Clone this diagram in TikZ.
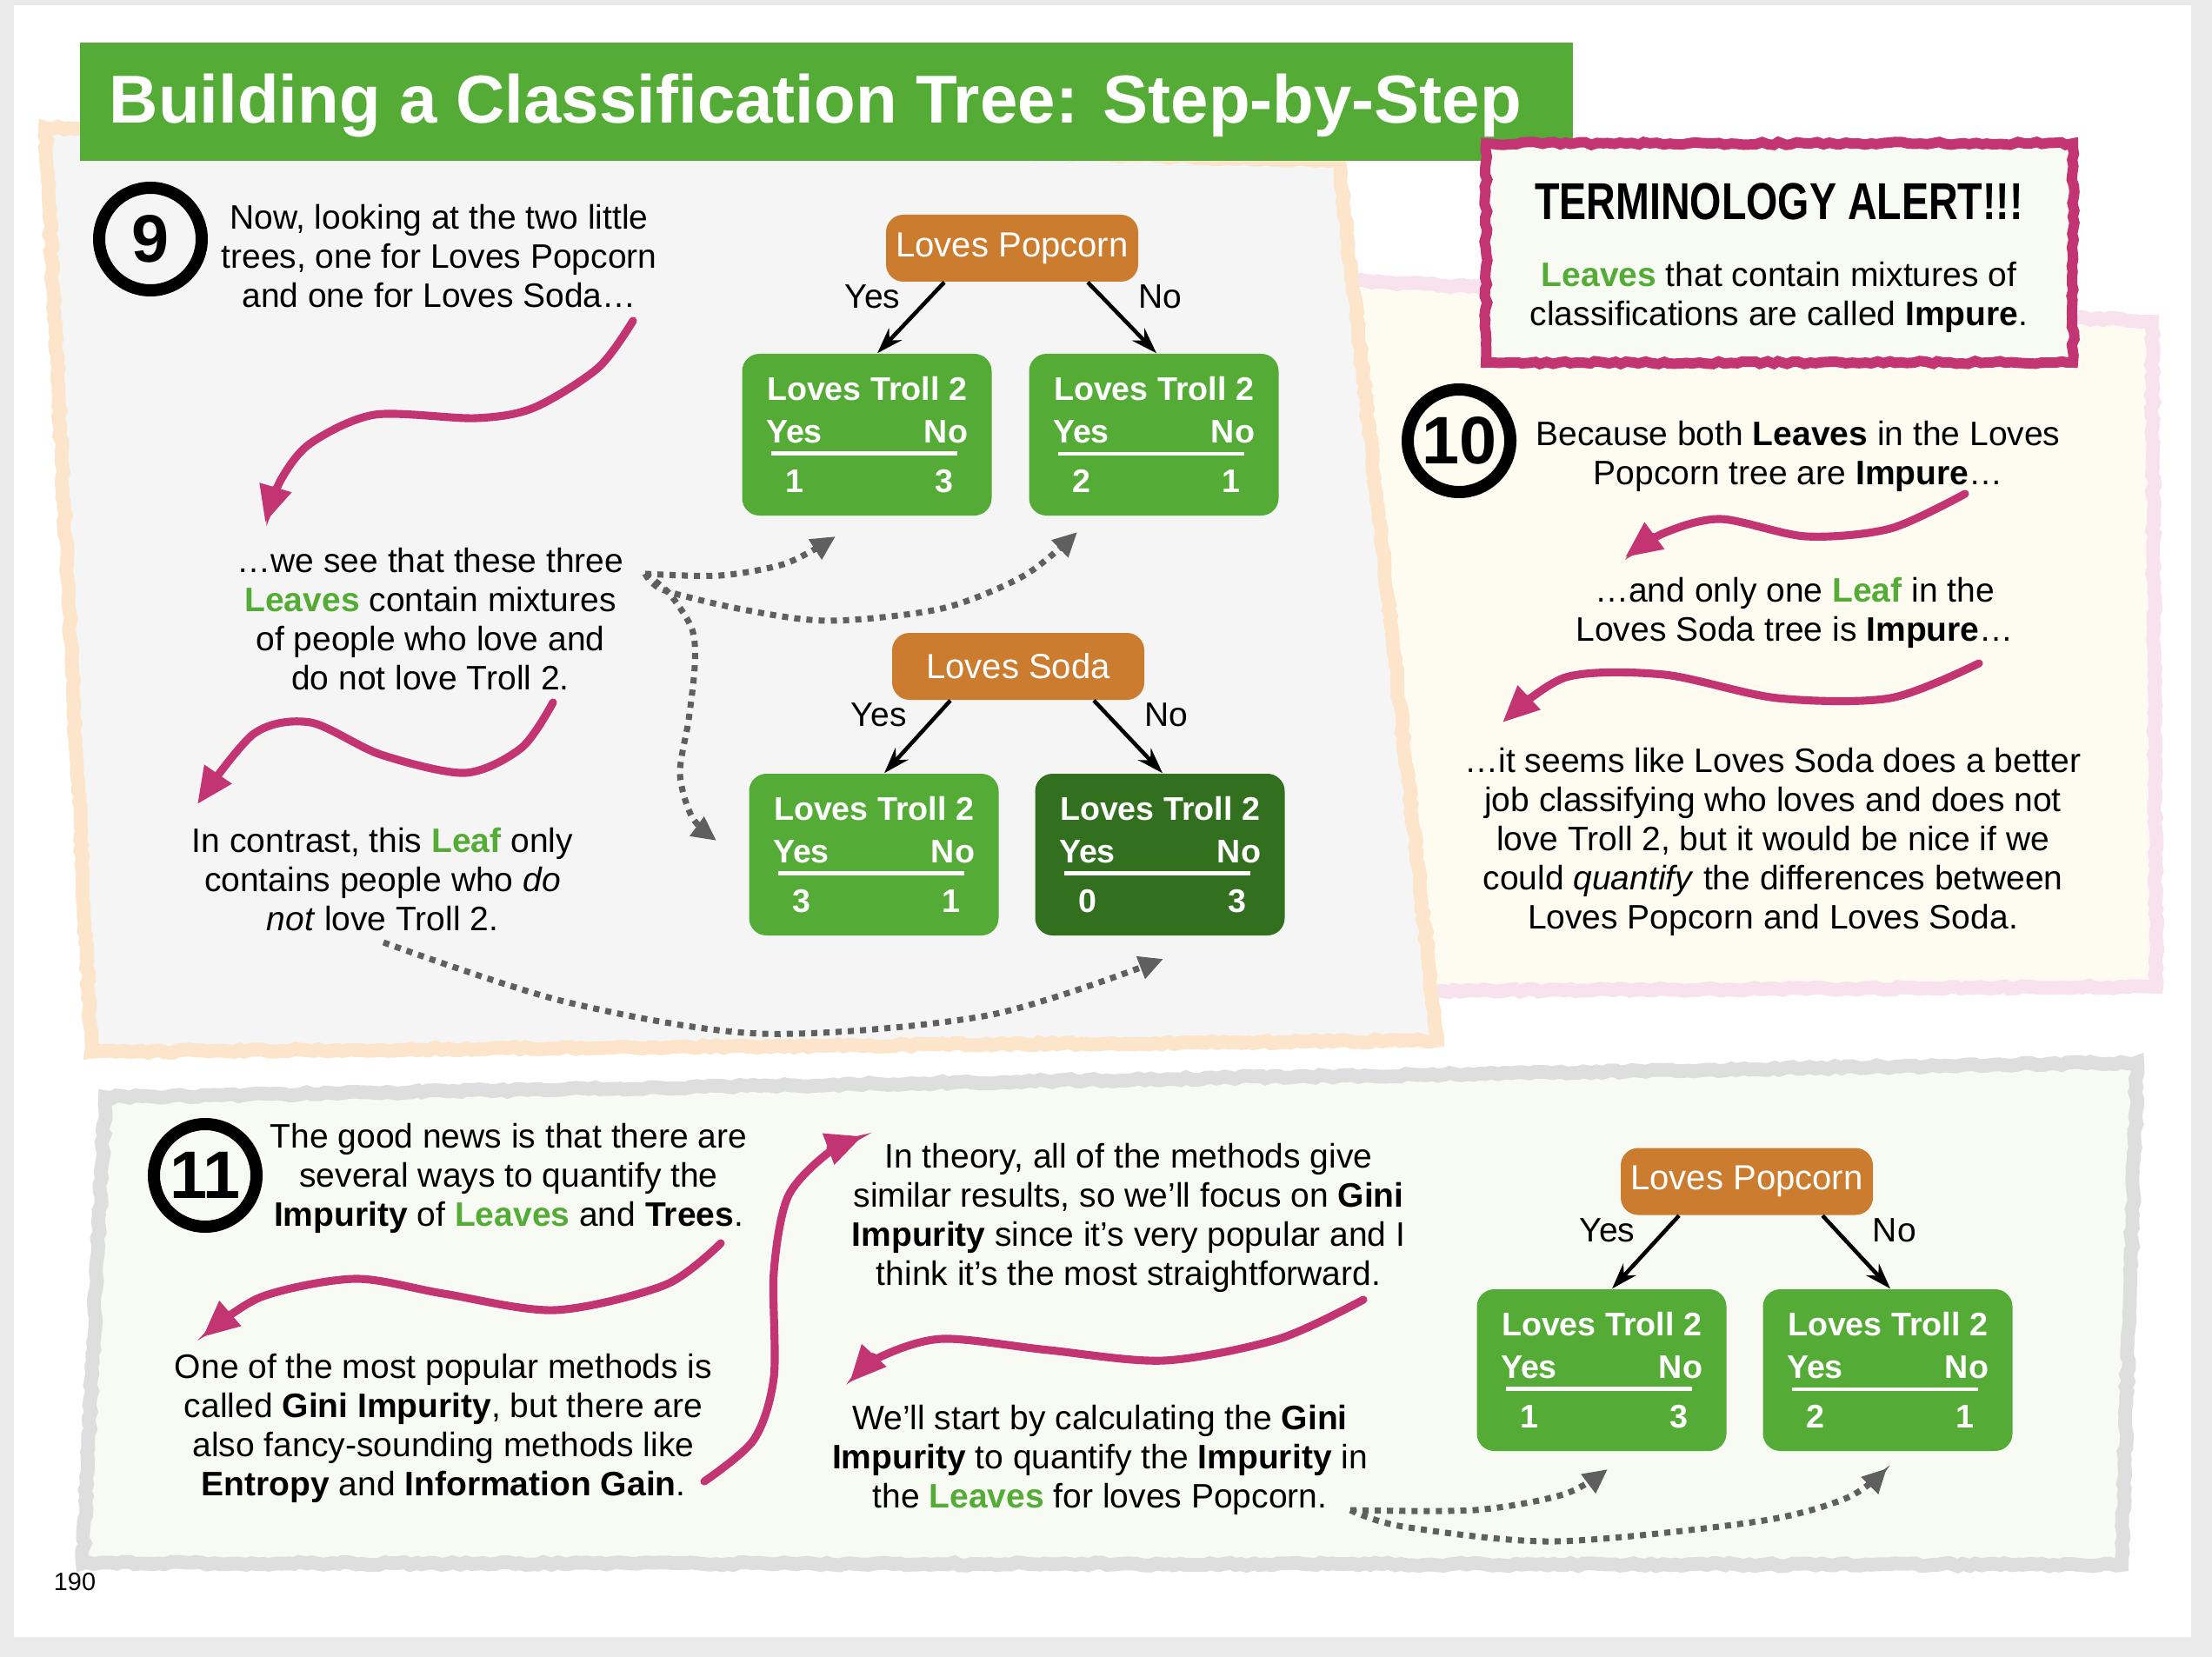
\documentclass[tikz,border=0pt]{standalone}
\usepackage{fontspec}
\setmainfont{Liberation Sans}
\usepackage{graphicx}
\usetikzlibrary{arrows.meta,positioning,calc,decorations.pathmorphing}
\definecolor{leafgreen}{RGB}{84,171,53}
\definecolor{darkleaf}{RGB}{50,112,32}
\definecolor{rootorange}{RGB}{203,124,47}
\definecolor{alertpink}{RGB}{195,53,114}
\definecolor{dotgray}{RGB}{95,95,95}
\definecolor{pagegray}{RGB}{234,234,234}
\definecolor{panelgray}{RGB}{245,245,245}
\definecolor{peach}{RGB}{252,229,203}
\definecolor{cream}{RGB}{254,252,241}
\definecolor{lightpink}{RGB}{247,226,237}
\definecolor{mint}{RGB}{248,251,244}
\definecolor{framegray}{RGB}{222,222,222}

\newcommand{\trollcounts}[2]{%
  \parbox{2.32cm}{\centering Loves Troll 2\par\vspace{1pt}
  \makebox[2.32cm]{Yes\hfill No}\par\vspace{-8.85pt}
  \makebox[2.32cm]{\hspace{0.06cm}\rule{2.14cm}{1.3pt}\hfill}\par\vspace{-0.85pt}
  \makebox[2.32cm]{\hspace{0.22cm}#1\hfill #2\hspace{0.17cm}}}}
\newcommand{\green}[1]{\textcolor{leafgreen}{#1}}

\begin{document}
\begin{tikzpicture}[
    txt/.style={font=\fontsize{11.1}{12.8}\selectfont, align=center, inner sep=0pt},
    root/.style={rectangle, fill=rootorange, rounded corners=0.2cm, text=white,
                 minimum width=2.9cm, minimum height=0.77cm, inner sep=0pt,
                 font=\fontsize{11.4}{13}\selectfont},
    leaf/.style={rectangle, fill=leafgreen, rounded corners=0.2cm, text=white,
                 minimum width=2.87cm, minimum height=1.86cm, inner sep=0pt,
                 font=\fontsize{10.7}{13}\selectfont\bfseries},
    num/.style={circle, draw, line width=0.14cm, minimum size=1.18cm, inner sep=0pt,
                font=\fontsize{22}{24}\selectfont\bfseries},
    treearrow/.style={-{Stealth[length=0.3cm,width=0.2cm]}, line width=1.3pt},
    yesno/.style={font=\fontsize{11.1}{13}\selectfont, inner sep=0pt},
    pinkarrow/.style={alertpink, line width=2.6pt, line cap=round,
                      -{Triangle[length=0.42cm,width=0.36cm]}},
    dotarrow/.style={dotgray, line width=2pt, dash pattern=on 2pt off 2pt,
                     -{Triangle[length=0.28cm,width=0.26cm]}},
    sketch/.style={decorate, decoration={random steps, segment length=2pt, amplitude=0.5pt}}
]
\pgfmathsetseed{7}
\useasboundingbox (0,0) rectangle (25.44,-19.06);

% Page
\fill[pagegray] (0,0) rectangle (25.44,-19.06);
\fill[white] (0.16,-0.06) rectangle (25.20,-18.83);

% Panels
\draw[sketch, lightpink, line width=4.5pt, fill=cream]
    (15.35,-3.22) -- (24.75,-3.70) -- (24.80,-11.35) -- (16.30,-11.40) -- cycle;
\draw[sketch, peach, line width=4.5pt, fill=panelgray]
    (0.52,-1.47) -- (15.40,-1.85) -- (16.53,-11.97) -- (1.05,-12.10) -- cycle;
\draw[sketch, framegray, line width=4.5pt, fill=mint]
    (1.21,-12.62) -- (24.58,-12.22) -- (24.40,-18.00) -- (0.95,-17.98) -- cycle;

% Title
\fill[leafgreen] (0.92,-0.49) rectangle (18.09,-1.85);
\node[anchor=base west, text=white, inner sep=0pt, font=\fontsize{22.2}{26}\selectfont\bfseries]
    (title) at (1.25,-1.42) {Building a Classification Tree: Step-by-Step};

% Terminology alert
\draw[sketch, alertpink, line width=0.12cm, fill=mint] (17.09,-1.65) rectangle (23.84,-4.17);
\node[inner sep=0pt, font=\fontsize{17}{20}\selectfont\bfseries] (alert) at (20.46,-2.32)
    {\scalebox{0.78}[1]{TERMINOLOGY ALERT!!!}};
\node[txt] (alertbody) at (20.46,-3.42)
    {\green{\textbf{Leaves}} that contain mixtures of\\classifications are called \textbf{Impure}.};

% Step 9
\node[num] (n9) at (1.73,-2.75) {9};
\node[txt] (t9a) at (5.05,-2.95)
    {Now, looking at the two little\\trees, one for Loves Popcorn\\and one for Loves Soda…};
\node[txt] (t9b) at (4.95,-7.12)
    {…we see that these three\\\green{\textbf{Leaves}} contain mixtures\\of people who love and\\do not love Troll 2.};
\node[txt] (t9c) at (4.40,-10.12)
    {In contrast, this \green{\textbf{Leaf}} only\\contains people who \emph{do}\\\emph{not} love Troll 2.};

% Loves Popcorn tree
\node[root] (pop) at (11.64,-2.855) {Loves Popcorn};
\node[leaf] (popyes) at (9.97,-5.00) {\trollcounts{1}{3}};
\node[leaf] (popno) at (13.27,-5.00) {\trollcounts{2}{1}};
\draw[treearrow] ([xshift=-0.78cm]pop.south) -- node[yesno, pos=0.2, left=0.33cm] {Yes} ([xshift=0.12cm]popyes.north);
\draw[treearrow] ([xshift=0.87cm]pop.south) -- node[yesno, pos=0.2, right=0.4cm] {No} ([xshift=0.03cm]popno.north);

% Loves Soda tree
\node[root] (soda) at (11.71,-7.665) {Loves Soda};
\node[leaf] (sodayes) at (10.05,-9.83) {\trollcounts{3}{1}};
\node[leaf, fill=darkleaf] (sodano) at (13.34,-9.83) {\trollcounts{0}{3}};
\draw[treearrow] ([xshift=-0.78cm]soda.south) -- node[yesno, pos=0.2, left=0.33cm] {Yes} ([xshift=0.12cm]sodayes.north);
\draw[treearrow] ([xshift=0.87cm]soda.south) -- node[yesno, pos=0.2, right=0.4cm] {No} ([xshift=0.03cm]sodano.north);

% Arrows in step 9
\coordinate (p1s) at (7.28,-3.69);
\coordinate (p1e) at (3.05,-6.01);
\draw[pinkarrow] plot[smooth] coordinates {(p1s) (6.88,-4.23) (6.14,-4.69) (5.47,-4.81) (4.31,-4.77) (3.57,-5.10) (3.23,-5.52) (p1e)};
\coordinate (p2s) at (6.36,-8.08);
\coordinate (p2e) at (2.27,-9.25);
\draw[pinkarrow] plot[smooth] coordinates {(p2s) (6.00,-8.60) (5.35,-8.89) (4.38,-8.68) (3.57,-8.31) (2.92,-8.44) (p2e)};

\coordinate (d1) at (7.42,-6.60);
\coordinate (d1a) at (9.61,-6.17);
\coordinate (d1b) at (12.39,-6.12);
\coordinate (d1c) at (8.24,-9.67);
\draw[dotarrow] plot[smooth] coordinates {(d1) (8.28,-6.62) (9.04,-6.48) (d1a)};
\draw[dotarrow] plot[smooth] coordinates {(d1) (7.64,-6.79) (8.59,-7.02) (9.55,-7.14) (10.83,-7.00) (11.78,-6.62) (d1b)};
\draw[dotarrow] plot[smooth] coordinates {(d1) (7.70,-6.83) (7.96,-7.24) (7.99,-7.66) (7.92,-8.28) (7.82,-8.90) (7.96,-9.40) (d1c)};
\coordinate (d2) at (4.41,-10.84);
\coordinate (d2a) at (13.38,-11.03);
\draw[dotarrow] plot[smooth] coordinates {(d2) (6.49,-11.52) (8.76,-11.89) (11.36,-11.68) (d2a)};

% Step 10
\node[num] (n10) at (16.78,-5.07) {10};
\node[txt] (t10a) at (20.68,-5.25)
    {Because both \textbf{Leaves} in the Loves\\Popcorn tree are \textbf{Impure}…};
\node[txt] (t10b) at (20.64,-7.05)
    {…and only one \green{\textbf{Leaf}} in the\\Loves Soda tree is \textbf{Impure}…};
\node[txt] (t10c) at (20.39,-9.68)
    {…it seems like Loves Soda does a better\\job classifying who loves and does not\\love Troll 2, but it would be nice if we\\could \emph{quantify} the differences between\\Loves Popcorn and Loves Soda.};
\coordinate (p3s) at (22.60,-5.68);
\coordinate (p3e) at (18.69,-6.41);
\draw[pinkarrow] plot[smooth] coordinates {(p3s) (21.74,-6.08) (20.77,-6.17) (19.79,-5.97) (19.14,-6.13) (p3e)};
\coordinate (p4s) at (22.76,-7.63);
\coordinate (p4e) at (17.28,-8.31);
\draw[pinkarrow] plot[smooth] coordinates {(p4s) (21.74,-8.03) (20.44,-8.03) (19.14,-7.76) (18.01,-7.79) (p4e)};

% Step 11
\node[num] (n11) at (2.36,-13.52) {11};
\node[txt] (t11a) at (5.85,-13.55)
    {The good news is that there are\\several ways to quantify the\\\textbf{Impurity} of \green{\textbf{Leaves}} and \textbf{Trees}.};
\node[txt] (t11b) at (5.10,-16.43)
    {One of the most popular methods is\\called \textbf{Gini Impurity}, but there are\\also fancy-sounding methods like\\\textbf{Entropy} and \textbf{Information Gain}.};
\node[txt] (t11c) at (12.98,-14.01)
    {In theory, all of the methods give\\similar results, so we’ll focus on \textbf{Gini}\\\textbf{Impurity} since it’s very popular and I\\think it’s the most straightforward.};
\node[txt] (t11d) at (12.65,-16.79)
    {We’ll start by calculating the \textbf{Gini}\\\textbf{Impurity} to quantify the \textbf{Impurity} in\\the \green{\textbf{Leaves}} for loves Popcorn.};

% Loves Popcorn tree again
\node[root] (pop2) at (20.09,-13.59) {Loves Popcorn};
\node[leaf] (pop2yes) at (18.42,-15.76) {\trollcounts{1}{3}};
\node[leaf] (pop2no) at (21.71,-15.76) {\trollcounts{2}{1}};
\draw[treearrow] ([xshift=-0.78cm]pop2.south) -- node[yesno, pos=0.2, left=0.33cm] {Yes} ([xshift=0.12cm]pop2yes.north);
\draw[treearrow] ([xshift=0.87cm]pop2.south) -- node[yesno, pos=0.2, right=0.4cm] {No} ([xshift=0.03cm]pop2no.north);

% Arrows in step 11
\coordinate (p5s) at (8.29,-14.30);
\coordinate (p5e) at (2.33,-15.38);
\draw[pinkarrow] plot[smooth] coordinates {(p5s) (7.65,-14.78) (6.38,-15.07) (5.10,-14.88) (4.08,-14.71) (3.00,-14.92) (p5e)};
\coordinate (p6s) at (8.10,-17.04);
\coordinate (p6e) at (9.92,-13.07);
\draw[pinkarrow] plot[smooth] coordinates {(p6s) (8.67,-16.56) (8.90,-15.84) (8.90,-14.63) (9.06,-13.77) (9.50,-13.28) (p6e)};
\coordinate (p7s) at (15.68,-14.95);
\coordinate (p7e) at (9.77,-15.90);
\draw[pinkarrow] plot[smooth] coordinates {(p7s) (14.71,-15.40) (13.39,-15.65) (12.06,-15.53) (10.84,-15.40) (10.12,-15.61) (p7e)};

\coordinate (d3) at (15.53,-17.37);
\coordinate (d3a) at (18.49,-16.90);
\coordinate (d3b) at (21.70,-16.89);
\draw[dotarrow] plot[smooth] coordinates {(d3) (16.96,-17.37) (17.98,-17.19) (d3a)};
\draw[dotarrow] plot[smooth] coordinates {(d3) (16.14,-17.56) (17.88,-17.73) (20.22,-17.50) (21.24,-17.23) (d3b)};

% Page number
\node[inner sep=0pt, font=\fontsize{8.2}{10}\selectfont] (page) at (0.86,-18.20) {190};

\end{tikzpicture}
\end{document}
